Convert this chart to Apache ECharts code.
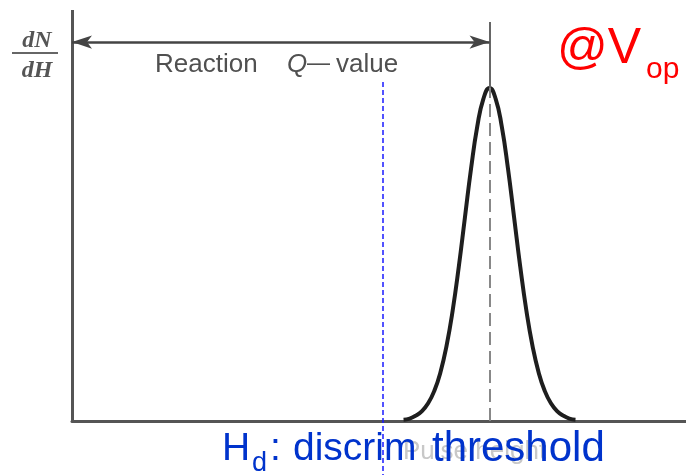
<!DOCTYPE html>
<html>
<head>
<meta charset="utf-8">
<script src="https://cdn.jsdelivr.net/npm/echarts@6/dist/echarts.min.js"></script>
<style>
  html, body { margin: 0; padding: 0; background: #fff; }
  #main { width: 686px; height: 475px; }
</style>
</head>
<body>
<div id="main"></div>
<script>
// pulse height spectrum (arbitrary units, x: 0..100, y: 0..100)
const curveX = [54, 55, 56, 57, 58, 59, 60, 61, 62, 63, 64, 65, 66, 67, 68,
  69, 70, 71, 72, 73, 74, 75, 76, 77, 78, 79, 80, 81, 82];
const curveY = [0.3, 0.6, 1.3, 2.4, 4.3, 7.3, 11.8, 18.3, 26.9, 37.6, 49.6, 61.5, 71.6, 78.4, 81,
  78.4, 71.6, 61.5, 49.6, 37.6, 26.9, 18.3, 11.8, 7.3, 4.3, 2.4, 1.3, 0.6, 0.3];
const peakX = 68;
const peakY = 81;
const peakLineTop = 97.1;
const arrowY = 92.2;
const thresholdX = 50.65;
const thresholdTop = 82.5;
const yMin = -13.14;
const yMax = 100;

let chartDom = document.getElementById("main");
let myChart = echarts.init(chartDom);
let option;

option = {
  animation: false,
  backgroundColor: "#fff",
  grid: { left: 72, right: 0, top: 10, bottom: 0 },
  xAxis: {
    type: "value",
    min: 0,
    max: 100,
    axisLine: { show: true, onZero: true, lineStyle: { color: "#555", width: 3 } },
    axisTick: { show: false },
    axisLabel: { show: false },
    splitLine: { show: false },
  },
  yAxis: {
    type: "value",
    min: yMin,
    max: yMax,
    axisLine: { show: false },
    axisTick: { show: false },
    axisLabel: { show: false },
    splitLine: { show: false },
  },
  graphic: [
    // dN/dH
    { type: "text", x: 37, y: 40.6, z: 10, style: { text: "dN", font: 'italic bold 24px "Liberation Serif"', fill: "#555", align: "center", verticalAlign: "middle" } },
    { type: "line", z: 10, shape: { x1: 12, y1: 53, x2: 58, y2: 53 }, style: { stroke: "#666", lineWidth: 2 } },
    { type: "text", x: 37, y: 71, z: 10, style: { text: "dH", font: 'italic bold 24px "Liberation Serif"', fill: "#555", align: "center", verticalAlign: "middle" } },
    // Reaction Q - value
    { type: "text", x: 155, y: 65, z: 10, style: { text: "Reaction", font: '26px "Liberation Sans"', fill: "#505050", verticalAlign: "middle" } },
    { type: "text", x: 287, y: 65, z: 10, style: { text: "Q", font: 'italic 26px "Liberation Sans"', fill: "#505050", verticalAlign: "middle" } },
    { type: "text", x: 307, y: 64, z: 10, style: { text: "\u2014", font: '23px "Liberation Sans"', fill: "#505050", verticalAlign: "middle" } },
    { type: "text", x: 336, y: 65, z: 10, style: { text: "value", font: '26px "Liberation Sans"', fill: "#505050", verticalAlign: "middle" } },
    // @Vop
    { type: "text", x: 557, y: 49.5, z: 10, style: { text: "@V", font: '50px "Liberation Sans"', fill: "#ff0000", verticalAlign: "middle" } },
    { type: "text", x: 646, y: 69.5, z: 10, style: { text: "op", font: '30px "Liberation Sans"', fill: "#ff0000", verticalAlign: "middle" } },
    // faded axis title under the blue text
    { type: "text", x: 403, y: 452, z: 5, style: { text: "Pulse height", font: '26px "Liberation Sans"', fill: "#c8c8c8", verticalAlign: "middle" } },
    // Hd: discrim threshold
    { type: "text", x: 222, y: 449.5, z: 20, style: { text: "H", font: '39px "Liberation Sans"', fill: "#0033cc", verticalAlign: "middle" } },
    { type: "text", x: 252, y: 464, z: 20, style: { text: "d", font: '27px "Liberation Sans"', fill: "#0033cc", verticalAlign: "middle" } },
    { type: "text", x: 270, y: 449.5, z: 20, style: { text: ":", font: '39px "Liberation Sans"', fill: "#0033cc", verticalAlign: "middle" } },
    { type: "text", x: 293, y: 449.5, z: 20, style: { text: "discrim", font: '39px "Liberation Sans"', fill: "#0033cc", verticalAlign: "middle" } },
    { type: "text", x: 432, y: 449.5, z: 20, style: { text: "threshold", font: '42px "Liberation Sans"', fill: "#0033cc", verticalAlign: "middle" } },
  ],
  series: [
    {
      name: "spectrum",
      type: "line",
      smooth: true,
      symbol: "none",
      lineStyle: { color: "#1e1e1e", width: 4 },
      data: curveX.map((x, i) => [x, curveY[i]]),
      markLine: {
        silent: true,
        symbol: "none",
        label: { show: false },
        data: [
          // y axis
          [
            { coord: [0, 0], lineStyle: { color: "#555", width: 3, type: "solid" } },
            { coord: [0, yMax] },
          ],
          // peak line (solid above, dashed inside peak)
          [
            { coord: [peakX, peakY], lineStyle: { color: "#666", width: 2, type: "solid" } },
            { coord: [peakX, peakLineTop] },
          ],
          [
            { coord: [peakX, 0], lineStyle: { color: "#888", width: 2, type: [13, 6] } },
            { coord: [peakX, peakY] },
          ],
          // Q-value arrow
          [
            { coord: [0, arrowY], symbol: "arrow", symbolSize: [10, 20], lineStyle: { color: "#444", width: 2.5, type: "solid" } },
            { coord: [peakX, arrowY], symbol: "arrow", symbolSize: [10, 20] },
          ],
          // discriminator threshold
          [
            { coord: [thresholdX, thresholdTop], lineStyle: { color: "#1a1aff", width: 1.5, type: [5, 3] } },
            { coord: [thresholdX, yMin] },
          ],
        ],
      },
    },
  ],
};

option && myChart.setOption(option);
</script>
</body>
</html>
